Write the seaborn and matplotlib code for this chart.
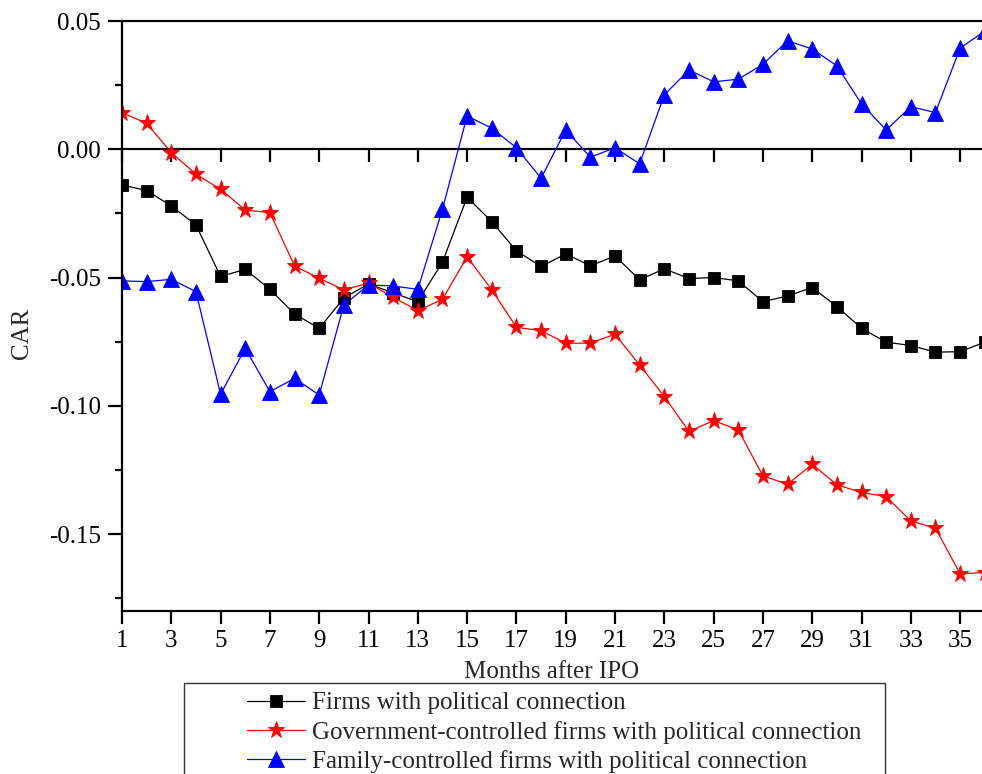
import numpy as np
import pandas as pd
import matplotlib
matplotlib.use("Agg")
import matplotlib.pyplot as plt
import seaborn as sns
from matplotlib.patches import Rectangle
from matplotlib.ticker import MultipleLocator, FixedLocator, FormatStrFormatter, NullLocator
from matplotlib.lines import Line2D

# ---------------- data ----------------
months = list(range(1, 37))
firms_pc = [-0.0139, -0.0161, -0.0221, -0.0295, -0.0496, -0.0468, -0.0546, -0.0642, -0.0698, -0.0580,
            -0.0525, -0.0560, -0.0594, -0.0440, -0.0187, -0.0282, -0.0396, -0.0457, -0.0408, -0.0454,
            -0.0416, -0.0509, -0.0466, -0.0504, -0.0500, -0.0513, -0.0594, -0.0572, -0.0539, -0.0613,
            -0.0698, -0.0752, -0.0765, -0.0791, -0.0789, -0.0752]
gov_pc = [0.0143, 0.0101, -0.0013, -0.0097, -0.0156, -0.0237, -0.0247, -0.0455, -0.0503, -0.0548,
          -0.0522, -0.0577, -0.0629, -0.0585, -0.0419, -0.0548, -0.0694, -0.0707, -0.0756, -0.0756,
          -0.0721, -0.0841, -0.0964, -0.1100, -0.1058, -0.1094, -0.1273, -0.1306, -0.1228, -0.1308,
          -0.1338, -0.1354, -0.1449, -0.1477, -0.1655, -0.1650]
family_pc = [-0.0513, -0.0516, -0.0507, -0.0555, -0.0955, -0.0776, -0.0945, -0.0893, -0.0958, -0.0607,
             -0.0529, -0.0533, -0.0546, -0.0234, 0.0130, 0.0082, 0.0006, -0.0113, 0.0075, -0.0031,
             0.0006, -0.0057, 0.0212, 0.0309, 0.0263, 0.0273, 0.0331, 0.0423, 0.0391, 0.0325,
             0.0177, 0.0075, 0.0166, 0.0143, 0.0394, 0.0461]
series_names = ["Firms with political connection",
                "Government-controlled firms with political connection",
                "Family-controlled firms with political connection"]
x_ticks = list(range(1, 36, 2))

# ---------------- style ----------------
sns.set_style("ticks")
plt.rcParams["font.family"] = ["Liberation Serif", "DejaVu Serif"]
plt.rcParams["axes.unicode_minus"] = False
FS = 18
LFS = 18

fig = plt.figure(figsize=(9.82, 7.74), dpi=100)
W, H = 982, 774
ax = fig.add_axes([122 / W, 1 - 611 / H, 1 - 122 / W, (611 - 21) / H])

styles = [
    dict(color="black", marker="s", markersize=9.0),
    dict(color="red", marker="*", markersize=12.5),
    dict(color="blue", marker="^", markersize=11.5),
]
values = [firms_pc, gov_pc, family_pc]
for name, vals, st in zip(series_names, values, styles):
    df = pd.DataFrame({"Month": months, "CAR": vals})
    sns.lineplot(data=df, x="Month", y="CAR", ax=ax, color=st["color"], marker=st["marker"],
                 markersize=st["markersize"], markeredgewidth=0.6, markeredgecolor=st["color"],
                 linewidth=0.9, label=None, legend=False)

ax.set_xlim(1, 1 + 860 / 24.65)
ax.set_ylim(-0.18, 0.05)

# axes styling
for s in ["left", "bottom", "top"]:
    ax.spines[s].set_linewidth(1.6)
    ax.spines[s].set_color("black")
ax.spines["right"].set_visible(False)

ax.yaxis.set_major_locator(MultipleLocator(0.05))
ax.yaxis.set_minor_locator(MultipleLocator(0.025))
ax.yaxis.set_major_formatter(FormatStrFormatter("%.2f"))
ax.xaxis.set_major_locator(FixedLocator(x_ticks))
ax.xaxis.set_minor_locator(NullLocator())
ax.tick_params(axis="y", which="major", direction="out", length=10, width=1.6, labelsize=FS, pad=5, colors="black")
ax.tick_params(axis="y", which="minor", direction="out", length=5, width=1.6, colors="black")
ax.tick_params(axis="x", which="major", direction="out", length=9, width=1.6, labelsize=FS, pad=5,
               bottom=True, top=False, colors="black")

# zero axis line with ticks pointing downward
sec = ax.secondary_xaxis(0.18 / 0.23)
sec.xaxis.set_major_locator(FixedLocator(x_ticks))
sec.xaxis.set_minor_locator(NullLocator())
sec.tick_params(axis="x", direction="in", length=9, width=1.6, labeltop=False, labelbottom=False, colors="black")
for s in sec.spines.values():
    s.set_linewidth(1.6)
    s.set_color("black")

ax.set_xlabel("Months after IPO", fontsize=FS, labelpad=6)
ax.set_ylabel("CAR", fontsize=FS)
ax.yaxis.set_label_coords(-0.104, (611 - 333) / 590)

# legend with a plain frame
handles = [Line2D([], [], color=st["color"], marker=st["marker"], markersize=st["markersize"],
                  markeredgewidth=0.6, linewidth=0.9) for st in styles]
leg = fig.legend(handles, series_names, loc="upper left", bbox_to_anchor=(247 / W, 1 - 692 / H),
                 frameon=False, fontsize=LFS, handlelength=2.3, handletextpad=0.32,
                 labelspacing=0.25, borderpad=0, borderaxespad=0)
fig.add_artist(Rectangle((184 / W, -0.05), (885 - 184) / W, 0.05 + (774 - 683) / H,
                         transform=fig.transFigure, fill=False, edgecolor="#333333", linewidth=1.0))

fig.savefig("out.png", dpi=100)
